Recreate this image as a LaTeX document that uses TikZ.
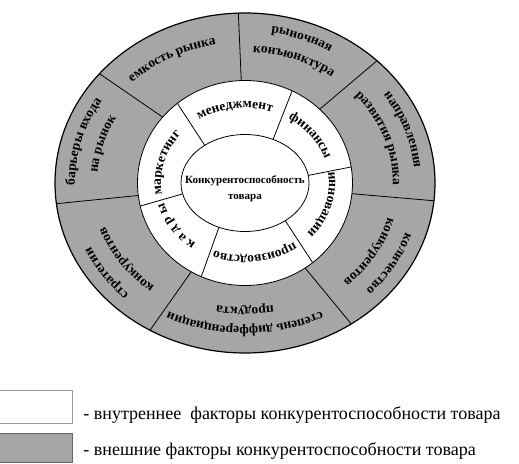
\documentclass[tikz,border=0pt]{standalone}
\usepackage{fontspec}
\setmainfont{Liberation Serif}
\usetikzlibrary{decorations.text}
\newcommand\lblfont{\fontsize{13.5}{13.5}\selectfont\bfseries}

\begin{document}
\begin{tikzpicture}[
	x = 1pt, y = 1pt,
	thick,
	outer/.style = {
		fill = black!35
	},
	inner/.style = {
		fill = white
	},
	arctext/.style = {
		decorate,
		decoration = {
			text along path,
			text align = center,
			text = {|\lblfont|#1}
		}
	},
	legend/.style = {
		anchor = base west,
		inner sep = 0pt,
		font = \fontsize{18}{18}\selectfont
	}
	]
	\useasboundingbox (0,0) rectangle (519,463);
	\coordinate (O) at (245,280);
	\draw[outer, line width = 1.2pt] (O) ellipse[x radius = 190, y radius = 170];
	\draw[inner] (O) ellipse[x radius = 107.5, y radius = 102.5];
	\draw[inner] (O) ellipse[x radius = 64, y radius = 48.5];
	\foreach \a in {92,140,187,240,304,354,46}
		\draw[shift = {(O)}] (\a:107.5 and 102.5) -- (\a:190 and 170);
	\foreach \a in {129,64,9,-51,-114,193}
		\draw[shift = {(O)}] (\a:64 and 48.5) -- (\a:107.5 and 102.5);
	% inner ring
	\path[arctext = менеджмент] (O) ++(150:84 and 75) arc[start angle = 150, end angle = 45, x radius = 84, y radius = 75];
	\path[arctext = финансы] (O) ++(80:84 and 75) arc[start angle = 80, end angle = -5, x radius = 84, y radius = 75];
	\path[arctext = инновации] (O) ++(25:84 and 75) arc[start angle = 25, end angle = -58, x radius = 84, y radius = 75];
	\path[arctext = производство] (O) ++(-30:84 and 73) arc[start angle = -30, end angle = -135, x radius = 84, y radius = 73];
	\path[arctext = к а д р ы] (O) ++(250:84 and 75) arc[start angle = 250, end angle = 178, x radius = 84, y radius = 75];
	\path[arctext = маркетинг] (O) ++(200:84 and 75) arc[start angle = 200, end angle = 129, x radius = 84, y radius = 75];
	% outer ring
	\path[arctext = рыночная] (O) ++(105:170 and 152) arc[start angle = 105, end angle = 35, x radius = 170, y radius = 152];
	\path[arctext = конъюнктура] (O) ++(105:148 and 131) arc[start angle = 105, end angle = 35, x radius = 148, y radius = 131];
	\path[arctext = емкость рынка] (O) ++(150:161 and 141) arc[start angle = 150, end angle = 86, x radius = 161, y radius = 141];
	\path[arctext = барьеры входа] (O) ++(200:170 and 152) arc[start angle = 200, end angle = 129, x radius = 170, y radius = 152];
	\path[arctext = на рынок] (O) ++(198:148 and 131) arc[start angle = 198, end angle = 129, x radius = 148, y radius = 131];
	\path[arctext = стратегии] (O) ++(250:170 and 152) arc[start angle = 250, end angle = 180, x radius = 170, y radius = 152];
	\path[arctext = конкурентов] (O) ++(250:148 and 131) arc[start angle = 250, end angle = 180, x radius = 148, y radius = 131];
	\path[arctext = степень дифференциации] (O) ++(-30:170 and 144) arc[start angle = -30, end angle = -150, x radius = 170, y radius = 144];
	\path[arctext = продукта] (O) ++(-30:148 and 125) arc[start angle = -30, end angle = -150, x radius = 148, y radius = 125];
	\path[arctext = количество] (O) ++(5:170 and 152) arc[start angle = 5, end angle = -67, x radius = 170, y radius = 152];
	\path[arctext = конкурентов] (O) ++(5:148 and 131) arc[start angle = 5, end angle = -67, x radius = 148, y radius = 131];
	\path[arctext = направления] (O) ++(55:170 and 152) arc[start angle = 55, end angle = -15, x radius = 170, y radius = 152];
	\path[arctext = развития рынка] (O) ++(55:148 and 131) arc[start angle = 55, end angle = -15, x radius = 148, y radius = 131];
	\node[font = \fontsize{11}{16}\selectfont\bfseries, align = center] (goods) at (245,274) {Конкурентоспособность\\товара};
	% legend
	\draw[draw = black!40, fill = white] (-1,40) rectangle (72,72.5);
	\draw[outer, draw = black!60] (-1,1) rectangle (72,30);
	\node[legend] (inside) at (83,43) {- внутреннее\ \ факторы конкурентоспособности товара};
	\node[legend] (outside) at (83,8) {- внешние факторы конкурентоспособности товара};
\end{tikzpicture}
\end{document}
